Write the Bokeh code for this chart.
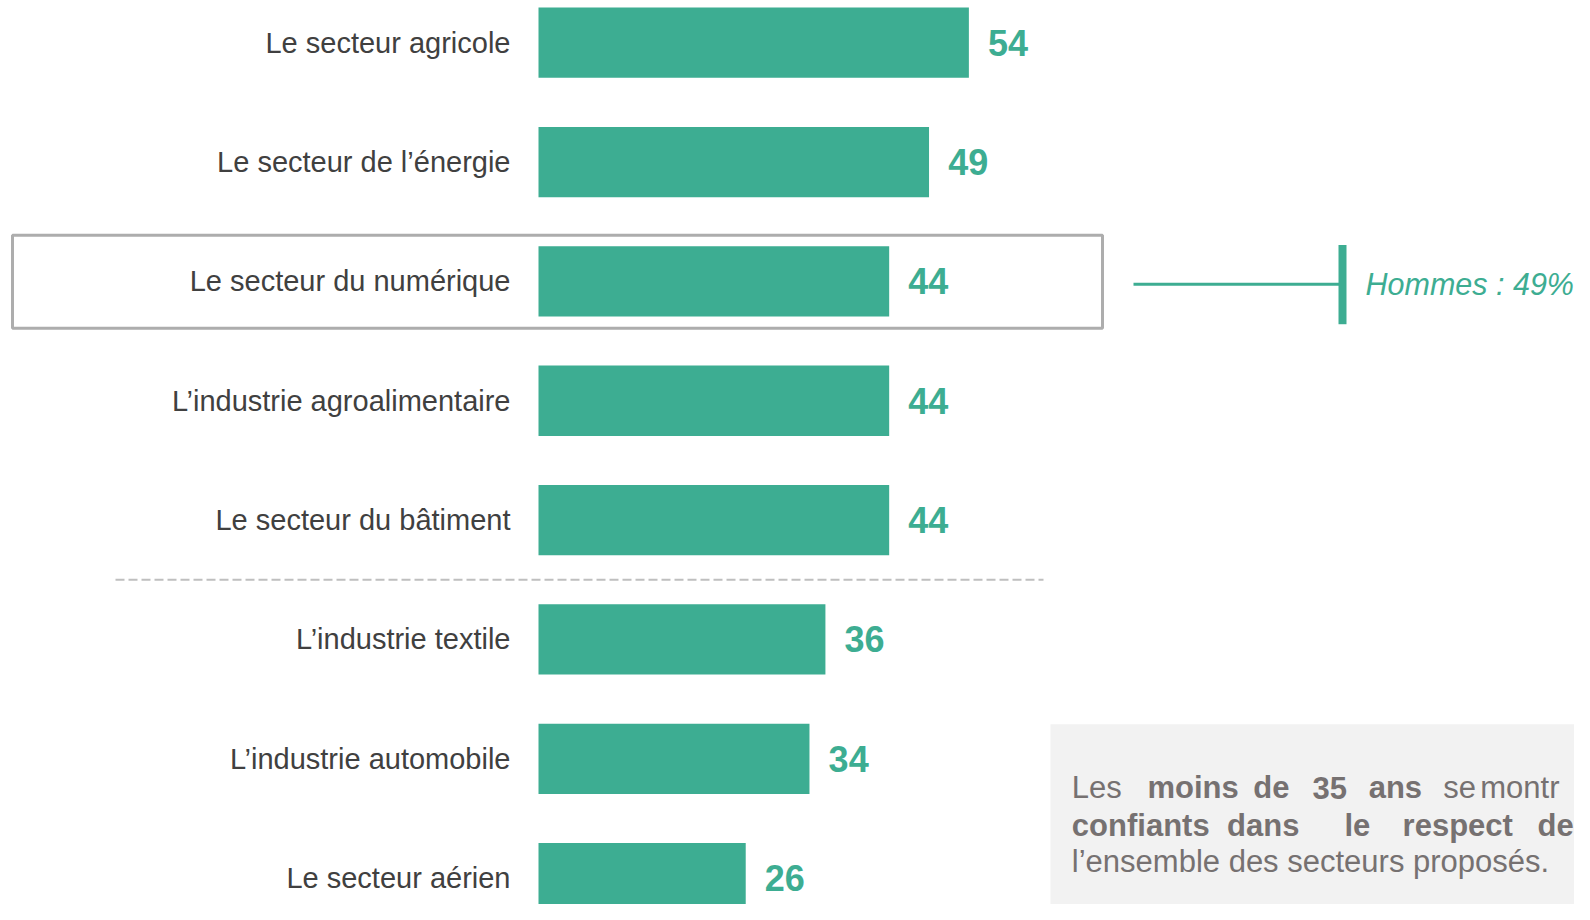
from bokeh.plotting import figure
from bokeh.models import Range1d, ColumnDataSource
from bokeh.core.properties import value
from bokeh.embed import file_html
from bokeh.resources import INLINE

# ---- data ----
categories = [
    "Le secteur agricole",
    "Le secteur de l\u2019\u00e9nergie",
    "Le secteur du num\u00e9rique",
    "L\u2019industrie agroalimentaire",
    "Le secteur du b\u00e2timent",
    "L\u2019industrie textile",
    "L\u2019industrie automobile",
    "Le secteur a\u00e9rien",
]
values = [54, 49, 44, 44, 44, 36, 34, 26]
value_labels = [str(v) for v in values]
highlight_index = 2
highlight_note = "Hommes : 49%"
note_line1 = [("Les", "normal"), ("moins", "bold"), ("de", "bold"), ("35", "bold"),
              ("ans", "bold"), ("se", "normal"), ("montr", "normal")]
note_line2 = [("confiants", "bold"), ("dans", "bold"), ("le", "bold"),
              ("respect", "bold"), ("de", "bold")]
note_line3 = "l\u2019ensemble des secteurs propos\u00e9s."

# ---- layout helpers (reference pixel -> data) ----
TEAL = "#3DAD92"
FONT = value("Liberation Sans")
W, H = 1574, 904
VS = 0.99          # slight vertical squeeze so the last row fits
XS = 7.97          # px per unit
YS = 120.56        # px per row


def X(ref):
    return (ref - 538) / XS


def Y(ref):
    return (ref - 42.6) / YS


def NX(ref):
    # note box content squeezed slightly so it ends at the canvas edge
    return X(1050 + 0.97 * (ref - 1050))


p = figure(width=W, height=H, output_backend="svg", toolbar_location=None,
           x_range=Range1d(X(0), X(W)),
           y_range=Range1d(Y(H / VS), Y(0)),
           min_border=0)
p.axis.visible = False
p.grid.visible = False
p.outline_line_color = None
p.background_fill_color = "white"
p.border_fill_color = "white"

rows = list(range(len(categories)))
src = ColumnDataSource(dict(y=rows, v=values, cat=categories, lab=value_labels,
                            lx=[v + 2.4 for v in values]))

# grey note box
p.quad(left=X(1050), right=X(1620), top=Y(731), bottom=Y(913),
       fill_color="#F2F2F2", line_color=None)

# bars
p.hbar(y="y", left=0, right="v", height=71 / YS, source=src,
       fill_color=TEAL, line_color=None)

# category labels
p.text(x=X(510), y="y", text="cat", source=src, text_align="right",
       text_baseline="middle", text_font=FONT, text_font_size="29px",
       text_color="#404040")

# value labels
p.text(x="lx", y="y", text="lab", source=src, text_align="left",
       text_baseline="middle", text_font=FONT, text_font_size="36px",
       text_font_style="bold", text_color=TEAL)

# highlight frame around the digital sector
p.quad(left=X(12), right=X(1102), top=Y(237), bottom=Y(331),
       fill_color=None, line_color="#ADADAD", line_width=3)

# dashed separator
p.segment(x0=X(115), x1=X(1043), y0=4.5, y1=4.5, line_color="#BFBFBF",
          line_width=2, line_dash="9 4")

# Hommes annotation
yh = highlight_index + 3 / YS
p.segment(x0=X(1133), x1=X(1340), y0=yh, y1=yh, line_color=TEAL, line_width=3)
p.segment(x0=X(1342), x1=X(1342), y0=Y(247), y1=Y(327), line_color=TEAL,
          line_width=8)
p.text(x=X(1365), y=yh, text=[highlight_note], text_align="left",
       text_baseline="middle", text_font=FONT, text_font_size="30.5px",
       text_font_style="italic", text_color=TEAL)

# note text (justified words)
GREY = "#767171"
NOTE_FS = "31px"
line1_x = [1072, 1150, 1259, 1320, 1378, 1455, 1493]
line2_x = [1072, 1232, 1353, 1413, 1552]
for (w, st), xr in zip(note_line1, line1_x):
    p.text(x=NX(xr), y=Y(795), text=[w], text_align="left",
           text_baseline="alphabetic", text_font=FONT, text_font_size=NOTE_FS,
           text_font_style=st, text_color=GREY)
for (w, st), xr in zip(note_line2, line2_x):
    p.text(x=NX(xr), y=Y(833), text=[w], text_align="left",
           text_baseline="alphabetic", text_font=FONT, text_font_size=NOTE_FS,
           text_font_style=st, text_color=GREY)
p.text(x=NX(1072), y=Y(870), text=[note_line3], text_align="left",
       text_baseline="alphabetic", text_font=FONT, text_font_size=NOTE_FS,
       text_color=GREY)

open("out.html", "w").write(file_html(p, INLINE))
